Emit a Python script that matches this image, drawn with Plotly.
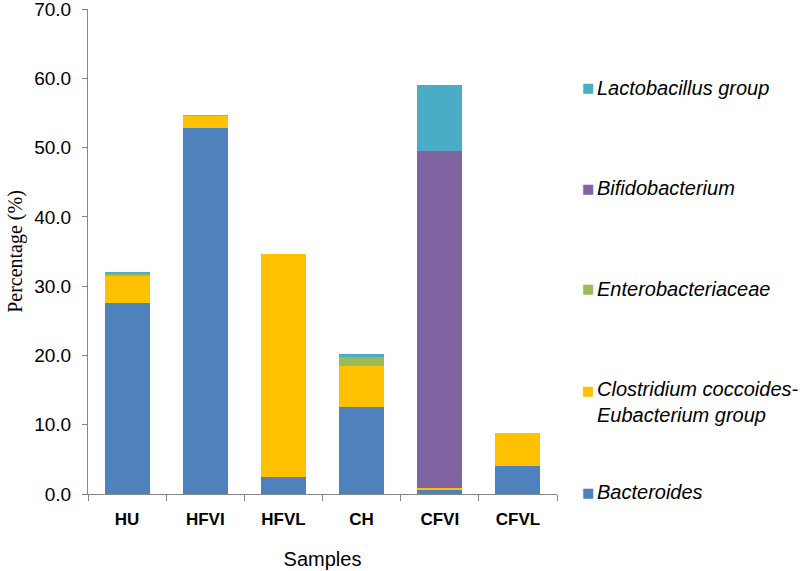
import plotly.graph_objects as go

# data (percentages)
samples = ["HU", "HFVI", "HFVL", "CH", "CFVI", "CFVL"]
bacteroides = [27.5, 52.8, 2.5, 12.5, 0.6, 4.1]
clostridium = [4.0, 1.8, 32.1, 6.0, 0.2, 4.7]
enterobacteriaceae = [0.3, 0.1, 0.0, 1.3, 0.0, 0.0]
bifidobacterium = [0.0, 0.0, 0.0, 0.0, 48.7, 0.0]
lactobacillus = [0.1, 0.0, 0.0, 0.4, 9.5, 0.0]

series_names = ["Bacteroides", "Clostridium coccoides-<br>Eubacterium group",
                "Enterobacteriaceae", "Bifidobacterium", "Lactobacillus group"]
series_values = [bacteroides, clostridium, enterobacteriaceae, bifidobacterium, lactobacillus]
series_colors = ["#4f81bd", "#ffc000", "#9bbb59", "#8064a2", "#4bacc6"]

# legend placement (paper coords), bottom to top
legend_y = [0.004, 0.2136, 0.423, 0.630, 0.838]
legend_text_y = [0.004, 0.190, 0.423, 0.630, 0.838]

fig = go.Figure()
for name, vals, col in zip(series_names, series_values, series_colors):
    fig.add_trace(go.Bar(
        x=samples, y=vals, name=name,
        marker=dict(color=col, line=dict(width=0)),
        showlegend=False,
    ))

# legend drawn as annotations so the spacing matches the original
for name, col, ys, yt in zip(series_names, series_colors, legend_y, legend_text_y):
    fig.add_annotation(
        x=1.05, y=ys, xref="paper", yref="paper",
        text="■", showarrow=False, xanchor="left", yanchor="middle",
        font=dict(size=13, color=col, family="DejaVu Sans"),
    )
    fig.add_annotation(
        x=1.082, y=yt, xref="paper", yref="paper",
        text="<i>" + name + "</i>", showarrow=False, xanchor="left", yanchor="middle",
        align="left",
        font=dict(size=20, color="black", family="Liberation Sans, Arial"),
    )

fig.update_layout(
    barmode="stack",
    bargap=0.425,
    width=800, height=571,
    margin=dict(l=88, r=243, t=9, b=77),
    plot_bgcolor="white",
    paper_bgcolor="white",
    font=dict(family="Liberation Sans, Arial", color="black"),
)

fig.update_yaxes(
    range=[0, 70], tick0=0, dtick=10, tickformat=".1f",
    showgrid=False, zeroline=False,
    showline=True, linecolor="#868686", linewidth=1,
    ticks="outside", ticklen=5, tickcolor="#868686",
    tickfont=dict(size=19, family="Liberation Sans, Arial"),
    ticklabelstandoff=7, ticklabeloverflow="allow",
    title=dict(text="Percentage (%)", standoff=6,
               font=dict(size=20, family="Liberation Serif, Times New Roman")),
    automargin=False,
)
fig.update_xaxes(
    showgrid=False,
    showline=True, linecolor="#868686", linewidth=1,
    ticks="outside", ticklen=6, tickcolor="#868686", tickson="boundaries",
    tickfont=dict(size=17, family="Liberation Sans, Arial", weight="bold"),
    ticklabelstandoff=10,
    title=dict(text="Samples", standoff=23, font=dict(size=20, family="Liberation Sans, Arial")),
    automargin=False,
)

fig.write_html("out.html", config={"displayModeBar": False},
               post_script="document.body.style.margin='0px';")
